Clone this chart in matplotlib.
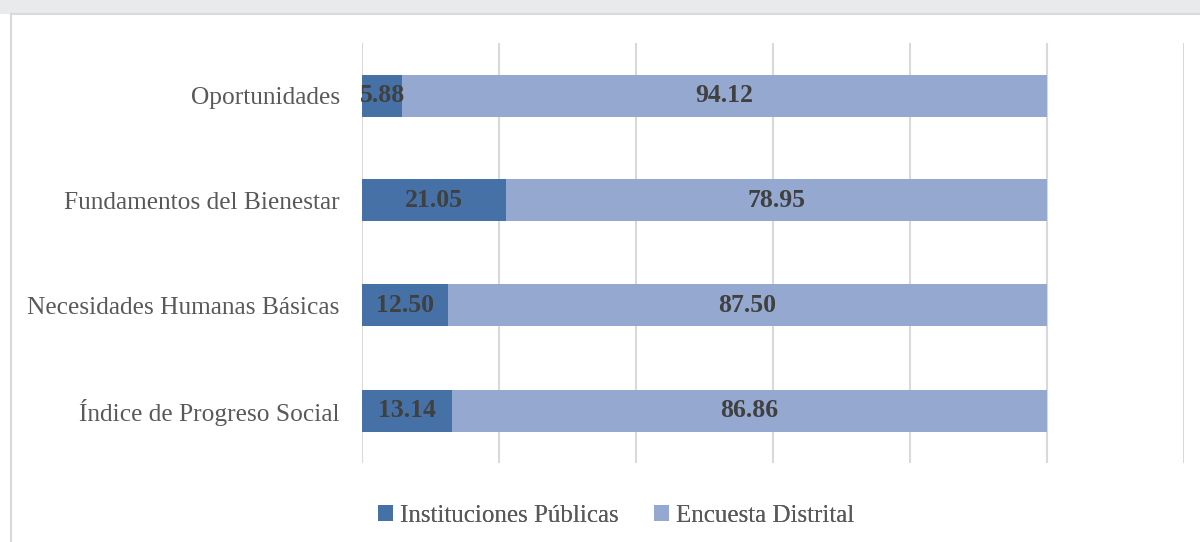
import matplotlib
matplotlib.use("Agg")
import matplotlib.pyplot as plt
from matplotlib.patches import Rectangle

categories = ["Índice de Progreso Social", "Necesidades Humanas Básicas",
              "Fundamentos del Bienestar", "Oportunidades"]
instituciones = [13.14, 12.50, 21.05, 5.88]
encuesta = [86.86, 87.50, 78.95, 94.12]
series_names = ["Instituciones Públicas", "Encuesta Distrital"]
colors = ["#4571A7", "#95A9D0"]

plt.rcParams['font.family'] = ['Liberation Serif', 'DejaVu Serif']

W, H = 1200, 542
fig = plt.figure(figsize=(W/100, H/100), dpi=100)
fig.patch.set_facecolor("white")

# top watermark strip and chart frame
fig.patches.append(Rectangle((0, 1 - 14/H), 1, 14/H, transform=fig.transFigure,
                             facecolor="#e9eaeb", edgecolor="none", zorder=-3))
fig.patches.append(Rectangle((11/W, -0.05), 1.2, 1 - 14/H + 0.05, transform=fig.transFigure,
                             facecolor="white", edgecolor="#d9d9d9", linewidth=1.5, zorder=-2))

ax = fig.add_axes([362/W, 1 - 463/H, (1184 - 362)/W, 420/H])
ax.set_zorder(2)
ax.set_facecolor("none")
y = list(range(len(categories)))
ax.barh(y, instituciones, height=0.4, color=colors[0], label=series_names[0], zorder=3)
ax.barh(y, encuesta, left=instituciones, height=0.4, color=colors[1], label=series_names[1], zorder=3)

for i in range(len(categories)):
    ax.text(instituciones[i] / 2, y[i], f"{instituciones[i]:.2f}", ha="center", va="center",
            fontsize=18.5, fontweight="bold", color="#404040", zorder=4)
    ax.text(instituciones[i] + encuesta[i] / 2, y[i], f"{encuesta[i]:.2f}", ha="center", va="center",
            fontsize=18.5, fontweight="bold", color="#404040", zorder=4)

ax.set_xlim(0, 120)
ax.set_ylim(-0.5, 3.5)
ax.set_xticks([0, 20, 40, 60, 80, 100, 120])
ax.set_xticklabels([])
ax.tick_params(axis="x", length=0)
ax.tick_params(axis="y", length=0, pad=16)
ax.set_yticks(y)
ax.set_yticklabels(categories, fontsize=18.3, color="#595959")
ax.grid(axis="x", color="#d9d9d9", linewidth=1.5, zorder=0)
for s in ax.spines.values():
    s.set_visible(False)

leg = fig.legend(loc="center", bbox_to_anchor=(616/W, 1 - 516/H), ncol=2, frameon=False,
                 fontsize=18, handlelength=0.6, handleheight=0.6, handletextpad=0.3,
                 columnspacing=1.4, labelcolor="#595959")
fig.add_artist(leg)
leg.set_zorder(5)

fig.savefig("out.png", dpi=100)
